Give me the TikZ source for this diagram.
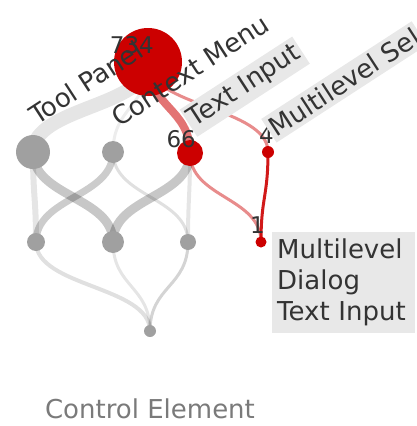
\documentclass[tikz,border=0pt]{standalone}
\usepackage{fontspec}
\setmainfont{DejaVu Sans}
\usepackage{tikz}
\usetikzlibrary{backgrounds}
\definecolor{ceRed}{HTML}{CC0000}
\definecolor{ceGray}{HTML}{A0A0A0}
\definecolor{ceBand}{HTML}{E8E8E8}
\definecolor{ceText}{HTML}{333333}
\definecolor{ceAxis}{HTML}{7A7A7A}

\begin{document}
\begin{tikzpicture}[x=1pt,y=-1pt,
  every node/.style={font=\fontsize{26}{31}\selectfont,text=ceText},
  dot/.style={circle,inner sep=0pt,minimum size=#1},
  rdot/.style={dot=#1,fill=ceRed},
  gdot/.style={dot=#1,fill=ceGray},
  glink/.style={draw=black,opacity=#1},
  rlink/.style={draw=ceRed,opacity=#1},
  cnt/.style={anchor=base east,inner sep=0pt,font=\fontsize{23}{27}\selectfont},
  tag/.style={anchor=base west,rotate=33,inner sep=0pt},
  tagbox/.style={anchor=base west,rotate=33,fill=ceBand,inner xsep=3pt,inner ysep=4pt},
  infobox/.style={anchor=north west,fill=ceBand,minimum width=143pt,minimum height=101pt,
    text width=133pt,inner xsep=5pt,align=left}]
\useasboundingbox (0,0) rectangle (417,426);
% level 0 to 3
\node[rdot=68pt] (root) at (148,62) {};
\node[gdot=34pt] (tp) at (33,152) {};
\node[gdot=22pt] (cm) at (113,152) {};
\node[rdot=26pt] (ti) at (190,153) {};
\node[rdot=12pt] (ms) at (268,152) {};
\node[gdot=18pt] (a) at (36,242) {};
\node[gdot=22pt] (b) at (113,242) {};
\node[gdot=16pt] (c) at (188,242) {};
\node[rdot=11pt] (d) at (261,242) {};
\node[gdot=12pt] (e) at (150,331) {};
\begin{scope}[on background layer]
\draw[glink=.1,line width=14pt] (root.center) .. controls +(0,45) and +(0,-45) .. (tp.center);
\draw[glink=.07,line width=3pt] (root.center) .. controls +(0,45) and +(0,-45) .. (cm.center);
\draw[rlink=.55,line width=8pt] (root.center) .. controls +(0,45) and +(0,-45) .. (ti.center);
\draw[rlink=.45,line width=3pt] (root.center) .. controls +(0,45) and +(0,-45) .. (ms.center);
\draw[glink=.1,line width=6pt] (tp.center) .. controls +(0,45) and +(0,-45) .. (a.center);
\draw[glink=.22,line width=9pt] (tp.center) .. controls +(0,45) and +(0,-45) .. (b.center);
\draw[glink=.2,line width=7pt] (cm.center) .. controls +(0,45) and +(0,-45) .. (a.center);
\draw[glink=.12,line width=3pt] (cm.center) .. controls +(0,45) and +(0,-45) .. (c.center);
\draw[glink=.22,line width=9pt] (ti.center) .. controls +(0,45) and +(0,-45) .. (b.center);
\draw[glink=.1,line width=4pt] (ti.center) .. controls +(0,45) and +(0,-45) .. (c.center);
\draw[rlink=.45,line width=3pt] (ti.center) .. controls +(0,45) and +(0,-45) .. (d.center);
\draw[rlink=.9,line width=3pt] (ms.center) .. controls +(0,45) and +(0,-45) .. (d.center);
\draw[glink=.12,line width=4pt] (a.center) .. controls +(0,45) and +(0,-45) .. (e.center);
\draw[glink=.1,line width=3pt] (b.center) .. controls +(0,45) and +(0,-45) .. (e.center);
\draw[glink=.17,line width=3pt] (c.center) .. controls +(0,45) and +(0,-45) .. (e.center);
\end{scope}
% labels
\node[cnt] (n734) at (154,53) {734};
\node[cnt] (n66) at (196,147) {66};
\node[cnt] (n4) at (274,143) {4};
\node[cnt] (n1) at (265,233) {1};
\node[tag] (ltp) at (37,126) {Tool Panel};
\node[tag] (lcm) at (119,128) {Context Menu};
\node[tagbox] (lti) at (192,129) {Text Input};
\node[tagbox] (lms) at (274,139) {Multilevel Sel};
\node[infobox] (info) at (272,232) {Multilevel\\Dialog\\Text Input};
\node[anchor=base,text=ceAxis] (axis) at (150,418) {Control Element};
\end{tikzpicture}
\end{document}
